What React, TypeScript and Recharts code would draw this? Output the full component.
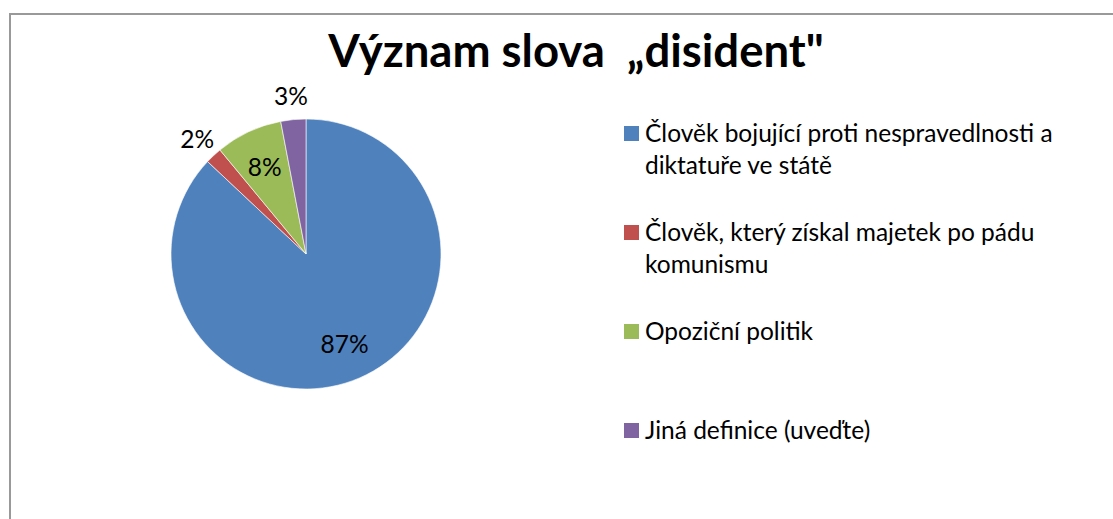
import React from "react";
import { PieChart, Pie, Cell, Legend } from "recharts";

const TITLE = "Význam slova  „disident\"";
const categories = [
  "Člověk bojující proti nespravedlnosti a diktatuře ve státě",
  "Člověk, který získal majetek po pádu komunismu",
  "Opoziční politik",
  "Jiná definice (uveďte)",
];
const values = [87, 2, 8, 3];
const colors = ["#4F81BD", "#C0504D", "#9BBB59", "#8064A2"];

const data = categories.map((name, i) => ({ name, value: values[i] }));

const FONT = "Lato, 'Open Sans', sans-serif";
const FS = 24.5;
const RADIAN = Math.PI / 180;

const renderLabel = (props: any) => {
  const { cx, cy, midAngle, outerRadius, percent } = props;
  const inside = percent >= 0.05;
  const r = inside ? outerRadius * 0.72 : outerRadius + 24;
  const x = cx + r * Math.cos(-midAngle * RADIAN);
  const y = cy + r * Math.sin(-midAngle * RADIAN);
  return (
    <text
      x={x}
      y={y}
      textAnchor="middle"
      dominantBaseline="central"
      fill="#000"
      style={{ fontFamily: FONT, fontSize: FS }}
    >
      {`${Math.round(percent * 100)}%`}
    </text>
  );
};

const renderLegend = () => (
  <div style={{ fontFamily: FONT, fontSize: FS, color: "#000" }}>
    {data.map((d, i) => (
      <div
        key={d.name}
        style={{ position: "relative", height: 99, width: 460, paddingLeft: 21, boxSizing: "border-box" }}
      >
        <span
          style={{
            position: "absolute",
            left: 0,
            top: 9,
            width: 15,
            height: 15,
            background: colors[i],
          }}
        />
        <div style={{ lineHeight: "32px", width: 435 }}>{d.name}</div>
      </div>
    ))}
  </div>
);

export default function App() {
  return (
    <div
      style={{
        position: "absolute",
        left: 0,
        top: 0,
        width: 1113,
        height: 519,
        overflow: "hidden",
        background: "#fff",
      }}
    >
      <div
        style={{
          position: "absolute",
          left: 9,
          top: 13,
          width: 1200,
          height: 600,
          border: "2px solid #999",
        }}
      />
      <div
        style={{
          position: "absolute",
          left: 0,
          width: 1152,
          top: 20,
          textAlign: "center",
          fontFamily: FONT,
          fontWeight: 700,
          fontSize: 45.5,
          whiteSpace: "pre",
          color: "#000",
          lineHeight: "60px",
        }}
      >
        {TITLE}
      </div>
      <div style={{ position: "absolute", left: 0, top: 0 }}>
        <PieChart width={1113} height={519} margin={{ top: 0, right: 0, bottom: 0, left: 0 }}>
          <Pie
            data={data}
            dataKey="value"
            nameKey="name"
            cx={306}
            cy={254}
            outerRadius={135}
            startAngle={90}
            endAngle={-270}
            stroke="#fff"
            strokeWidth={0.6}
            label={renderLabel}
            labelLine={false}
            isAnimationActive={false}
          >
            {data.map((d, i) => (
              <Cell key={d.name} fill={colors[i]} />
            ))}
          </Pie>
          <Legend
            layout="vertical"
            content={renderLegend}
            wrapperStyle={{ position: "absolute", left: 624, top: 117, width: 470 }}
          />
        </PieChart>
      </div>
    </div>
  );
}
